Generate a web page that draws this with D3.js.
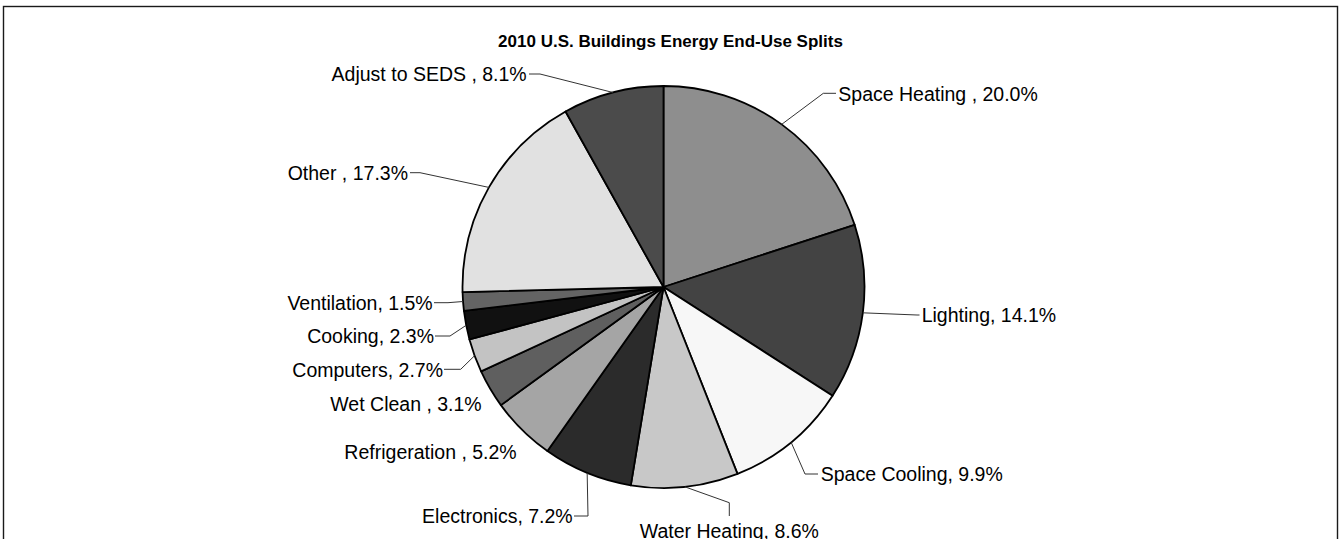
<!DOCTYPE html>
<html>
<head>
<meta charset="utf-8">
<script src="https://cdn.jsdelivr.net/npm/d3@7"></script>
<style>
  body { margin: 0; background: #fff; }
  svg { display: block; font-family: Arial, "Liberation Sans", sans-serif; }
</style>
</head>
<body>
<svg id="chart" width="1340" height="539"></svg>
<script>
// chart data, clockwise from 12 o'clock
var categories = ['Space Heating ', 'Lighting', 'Space Cooling', 'Water Heating', 'Electronics',
  'Refrigeration ', 'Wet Clean ', 'Computers', 'Cooking', 'Ventilation', 'Other ', 'Adjust to SEDS '];
var shares = [20.0, 14.1, 9.9, 8.6, 7.2, 5.2, 3.1, 2.7, 2.3, 1.5, 17.3, 8.1];
var fills = ['#8e8e8e', '#434343', '#f7f7f7', '#c8c8c8', '#2b2b2b', '#a5a5a5',
  '#5f5f5f', '#c3c3c3', '#111111', '#646464', '#e1e1e1', '#4b4b4b'];
var title = '2010 U.S. Buildings Energy End-Use Splits';

// label placement relative to the pie centre (elbow of leader, end of leader, text spot)
var labelLayout = [
  { elbow: [159.8, -193.7], end: [172.5, -193.7], text: [174.8, -186.5], anchor: 'start' },
  { elbow: [253.5, 28], end: [256, 28], text: [258.2, 35.2], anchor: 'start' },
  { elbow: [141.5, 187], end: [154.5, 187], text: [157.2, 194.2], anchor: 'start' },
  { elbow: [65.8, 215.7], end: [65.8, 229], text: [65.8, 250.5], anchor: 'middle' },
  { elbow: [-75.5, 229], end: [-89.5, 229], text: [-90.8, 236.2], anchor: 'end' },
  { elbow: null, end: null, text: [-146.8, 172.3], anchor: 'end' },
  { elbow: null, end: null, text: [-181.8, 123.7], anchor: 'end' },
  { elbow: [-202.8, 82.3], end: [-219.5, 82.3], text: [-220.5, 89.5], anchor: 'end' },
  { elbow: [-213.5, 49], end: [-228.5, 49], text: [-229.5, 56.2], anchor: 'end' },
  { elbow: [-215.5, 15.7], end: [-229.5, 15.7], text: [-230.8, 22.9], anchor: 'end' },
  { elbow: [-243.5, -114.3], end: [-253.5, -114.3], text: [-255.5, -107.1], anchor: 'end' },
  { elbow: [-123.5, -213], end: [-134.5, -213], text: [-136.8, -205.8], anchor: 'end' }
];

var width = 1340, height = 539;
var cx = 663.5, cy = 287, radius = 201;

var svg = d3.select('#chart');

// chart area border (bottom edge falls outside the picture)
svg.append('rect')
  .attr('x', 3.5).attr('y', 6.5)
  .attr('width', 1334).attr('height', 600)
  .attr('fill', '#fff')
  .attr('stroke', '#1a1a1a')
  .attr('stroke-width', 1.4);

svg.append('text')
  .attr('x', 670.5).attr('y', 46.5)
  .attr('text-anchor', 'middle')
  .attr('font-size', 17)
  .attr('font-weight', 'bold')
  .attr('fill', '#000')
  .text(title);

var rows = categories.map(function (c, i) {
  return { name: c, value: shares[i], fill: fills[i], layout: labelLayout[i] };
});

var pie = d3.pie().sort(null).value(function (d) { return d.value; });
var arc = d3.arc().innerRadius(0).outerRadius(radius);
var arcs = pie(rows);

var g = svg.append('g').attr('transform', 'translate(' + cx + ',' + cy + ')');

g.selectAll('path.slice')
  .data(arcs)
  .enter().append('path')
  .attr('class', 'slice')
  .attr('d', arc)
  .attr('fill', function (d) { return d.data.fill; })
  .attr('stroke', '#000')
  .attr('stroke-width', 1.8)
  .attr('stroke-linejoin', 'round');

// leader lines start on the rim at each slice's mid angle
function rimPoint(d) {
  var a = (d.startAngle + d.endAngle) / 2;
  return [radius * Math.sin(a), -radius * Math.cos(a)];
}

var line = d3.line();

g.selectAll('path.leader')
  .data(arcs.filter(function (d) { return d.data.layout.elbow; }))
  .enter().append('path')
  .attr('class', 'leader')
  .attr('d', function (d) {
    return line([rimPoint(d), d.data.layout.elbow, d.data.layout.end]);
  })
  .attr('fill', 'none')
  .attr('stroke', '#333')
  .attr('stroke-width', 1);

g.selectAll('text.label')
  .data(arcs)
  .enter().append('text')
  .attr('class', 'label')
  .attr('x', function (d) { return d.data.layout.text[0]; })
  .attr('y', function (d) { return d.data.layout.text[1]; })
  .attr('text-anchor', function (d) { return d.data.layout.anchor; })
  .attr('font-size', 19.5)
  .attr('fill', '#000')
  .text(function (d) { return d.data.name + ', ' + d.data.value.toFixed(1) + '%'; });
</script>
</body>
</html>
